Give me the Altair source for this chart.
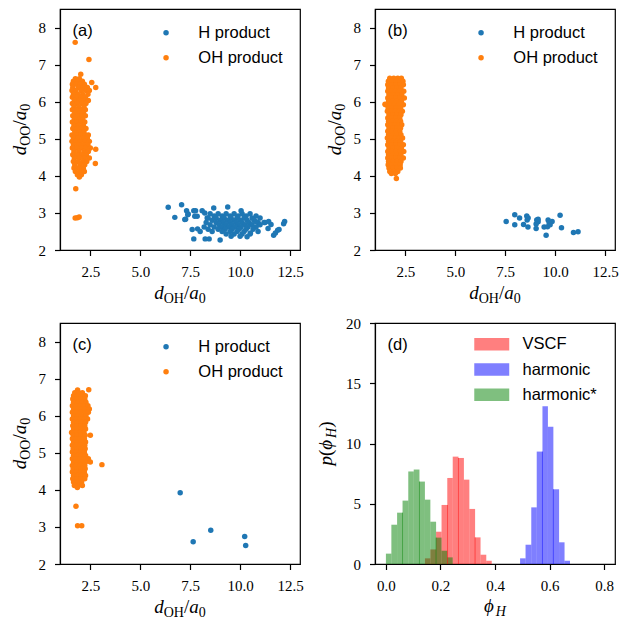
import altair as alt
import pandas as pd

BLUE = "#1f77b4"
ORANGE = "#ff7f0e"
SERIF = "Liberation Serif"
SANS = "Liberation Sans"

# ---------------- data ----------------
# panel (a)
A_OH_ROWS = [
    (6.62, [1.75, 1.95]),
    (6.55, [1.65, 1.85, 2.10]),
    (6.47, [1.60, 1.80, 2.00, 2.20]),
    (6.38, [1.62, 1.90, 2.15, 2.35]),
    (6.30, [1.58, 1.78, 2.05, 2.30, 2.45]),
    (6.20, [1.65, 1.88, 2.12, 2.38]),
    (6.12, [1.60, 1.82, 2.02, 2.25]),
    (6.03, [1.70, 1.95, 2.20, 2.40]),
    (5.95, [1.60, 1.85, 2.10, 2.28]),
    (5.86, [1.68, 1.92, 2.18]),
    (5.78, [1.60, 1.80, 2.05, 2.25]),
    (5.70, [1.72, 1.95, 2.15]),
    (5.62, [1.62, 1.85, 2.08, 2.25]),
    (5.53, [1.70, 1.92, 2.12]),
    (5.45, [1.60, 1.82, 2.02, 2.22]),
    (5.36, [1.68, 1.90, 2.15]),
    (5.28, [1.62, 1.85, 2.05, 2.28]),
    (5.19, [1.72, 1.95, 2.18]),
    (5.10, [1.58, 1.80, 2.02, 2.25, 2.40]),
    (5.02, [1.65, 1.88, 2.12, 2.35]),
    (4.93, [1.58, 1.78, 2.00, 2.22, 2.45]),
    (4.84, [1.65, 1.90, 2.15, 2.38]),
    (4.75, [1.60, 1.82, 2.05, 2.28, 2.50]),
    (4.66, [1.68, 1.92, 2.18, 2.40]),
    (4.57, [1.62, 1.85, 2.08, 2.30]),
    (4.48, [1.70, 1.95, 2.20, 2.45]),
    (4.39, [1.65, 1.88, 2.12, 2.32]),
    (4.30, [1.72, 1.98, 2.22]),
    (4.21, [1.68, 1.90, 2.15]),
    (4.12, [1.75, 2.00, 2.20]),
    (4.03, [1.85, 2.05]),
    (3.97, [1.95]),
]
A_OH_EXTRA = [(1.74, 7.60), (2.43, 7.14), (2.02, 6.74), (2.57, 6.52), (2.77, 6.38),
              (2.77, 4.72), (2.75, 4.33), (1.77, 3.65), (1.74, 2.86), (1.85, 2.87), (1.94, 2.89)]
A_H_ROWS = [
    (2.98, [8.5, 8.9, 9.3, 9.7, 10.1, 10.5]),
    (2.92, [8.7, 9.1, 9.5, 9.9, 10.3, 10.8]),
    (2.86, [8.4, 8.8, 9.2, 9.55, 9.85, 10.2, 10.6, 11.0]),
    (2.80, [8.6, 9.0, 9.35, 9.7, 10.0, 10.35, 10.7]),
    (2.74, [8.3, 8.8, 9.15, 9.5, 9.8, 10.1, 10.45, 10.9, 11.2]),
    (2.68, [8.5, 8.95, 9.3, 9.6, 9.9, 10.25, 10.6, 11.0]),
    (2.62, [8.2, 8.7, 9.1, 9.45, 9.75, 10.05, 10.4, 10.8]),
    (2.56, [8.4, 8.9, 9.25, 9.6, 9.95, 10.3, 10.65]),
    (2.50, [8.0, 8.6, 9.1, 9.5, 9.85, 10.2, 10.9]),
    (2.43, [9.3, 9.7, 10.1, 10.5]),
    (2.37, [9.55, 10.0]),
]
A_H_EXTRA = [(6.40, 3.15), (6.73, 2.88), (7.07, 3.22), (7.27, 2.83), (7.32, 3.06), (7.40, 2.97),
             (7.68, 3.06), (7.77, 3.06), (7.85, 2.91), (7.60, 2.55), (7.87, 2.57), (7.68, 2.30),
             (8.10, 3.06), (8.23, 3.00), (8.35, 2.86), (8.68, 3.13), (8.25, 2.30), (8.45, 2.30),
             (9.00, 2.27), (9.38, 3.16), (10.05, 3.06), (10.35, 2.36), (10.80, 2.76), (11.25, 2.74),
             (11.55, 2.69), (11.68, 2.40), (11.88, 2.53), (12.18, 2.71), (11.95, 2.55), (11.40, 2.58),
             (7.23, 2.82), (7.38, 2.95), (7.73, 2.91), (10.52, 2.46), (11.43, 2.77), (11.77, 2.46),
             (12.23, 2.77)]

# panel (b)
B_OH_ROWS = [
    (6.63, [1.72, 1.92, 2.12, 2.30]),
    (6.55, [1.65, 1.85, 2.05, 2.25, 2.38]),
    (6.46, [1.62, 1.82, 2.02, 2.22, 2.40]),
    (6.37, [1.66, 1.88, 2.08, 2.28]),
    (6.28, [1.62, 1.80, 2.00, 2.20, 2.42]),
    (6.19, [1.68, 1.90, 2.10, 2.32]),
    (6.10, [1.62, 1.82, 2.02, 2.22, 2.45]),
    (6.01, [1.66, 1.86, 2.06, 2.30]),
    (5.92, [1.52, 1.74, 1.96, 2.16, 2.40]),
    (5.83, [1.64, 1.84, 2.04, 2.26]),
    (5.74, [1.60, 1.80, 2.00, 2.20, 2.35]),
    (5.65, [1.68, 1.88, 2.08, 2.28]),
    (5.56, [1.62, 1.82, 2.02, 2.22]),
    (5.47, [1.66, 1.86, 2.06, 2.26]),
    (5.38, [1.62, 1.80, 2.00, 2.20, 2.32]),
    (5.29, [1.68, 1.88, 2.08, 2.26]),
    (5.20, [1.62, 1.82, 2.02, 2.22]),
    (5.11, [1.66, 1.86, 2.06, 2.28]),
    (5.02, [1.60, 1.80, 2.00, 2.20, 2.36]),
    (4.93, [1.66, 1.86, 2.06, 2.26]),
    (4.84, [1.62, 1.82, 2.02, 2.22, 2.40]),
    (4.75, [1.68, 1.88, 2.08, 2.30]),
    (4.66, [1.62, 1.82, 2.02, 2.22, 2.42]),
    (4.57, [1.66, 1.86, 2.06, 2.28]),
    (4.48, [1.62, 1.82, 2.02, 2.22, 2.40]),
    (4.39, [1.66, 1.88, 2.08, 2.28]),
    (4.30, [1.64, 1.84, 2.04, 2.24]),
    (4.21, [1.68, 1.88, 2.08, 2.25]),
    (4.12, [1.72, 1.92, 2.12]),
    (4.06, [1.80, 2.00]),
]
B_OH_EXTRA = [(1.48, 5.93), (2.05, 3.93)]
B_H = [(7.55, 2.77), (7.98, 2.95), (7.98, 2.68), (8.22, 2.86), (8.42, 2.69), (8.58, 2.92),
       (8.60, 2.81), (8.64, 2.62), (9.08, 2.81), (9.05, 2.58), (9.15, 2.76), (9.05, 2.70),
       (9.45, 2.62), (9.55, 2.40), (9.62, 2.63), (9.65, 2.81), (9.75, 2.68), (9.85, 2.77),
       (10.25, 2.94), (10.32, 2.60), (10.92, 2.47), (11.15, 2.49), (8.65, 2.86), (9.15, 2.83),
       (9.70, 2.74)]

# panel (c)
C_OH_ROWS = [
    (6.69, [1.86]),
    (6.62, [1.72, 1.92, 2.10]),
    (6.54, [1.66, 1.86, 2.06, 2.25]),
    (6.45, [1.62, 1.82, 2.02, 2.22]),
    (6.36, [1.66, 1.88, 2.08, 2.28]),
    (6.27, [1.60, 1.80, 2.00, 2.20, 2.38]),
    (6.18, [1.66, 1.86, 2.06, 2.26, 2.45]),
    (6.09, [1.60, 1.80, 2.00, 2.22, 2.40]),
    (6.00, [1.66, 1.86, 2.06, 2.28]),
    (5.91, [1.60, 1.80, 2.00, 2.20, 2.36]),
    (5.82, [1.66, 1.86, 2.06, 2.26]),
    (5.73, [1.62, 1.82, 2.02, 2.22]),
    (5.64, [1.66, 1.86, 2.06, 2.26]),
    (5.55, [1.56, 1.78, 1.98, 2.18]),
    (5.47, [1.64, 1.84, 2.04, 2.24, 2.50]),
    (5.38, [1.60, 1.80, 2.00, 2.20]),
    (5.29, [1.66, 1.86, 2.06, 2.26]),
    (5.20, [1.60, 1.80, 2.00, 2.22]),
    (5.11, [1.64, 1.84, 2.04, 2.24]),
    (5.02, [1.60, 1.80, 2.00, 2.20]),
    (4.93, [1.66, 1.86, 2.06, 2.26]),
    (4.84, [1.60, 1.80, 2.00, 2.20, 2.40]),
    (4.75, [1.66, 1.86, 2.06, 2.26, 2.50]),
    (4.66, [1.60, 1.80, 2.00, 2.22]),
    (4.57, [1.64, 1.84, 2.04, 2.24]),
    (4.48, [1.60, 1.80, 2.00, 2.20]),
    (4.39, [1.66, 1.86, 2.06, 2.26]),
    (4.30, [1.62, 1.82, 2.02, 2.22]),
    (4.21, [1.66, 1.86, 2.06]),
    (4.12, [1.70, 1.90, 2.10]),
    (4.06, [1.85]),
]
C_OH_EXTRA = [(2.42, 6.70), (3.08, 4.68), (1.78, 3.56), (1.86, 3.03), (2.07, 3.03)]
C_H = [(7.00, 3.92), (7.65, 2.60), (8.53, 2.91), (10.23, 2.74), (10.28, 2.50)]

# panel (d) histograms: bin edges and heights
VSCF_EDGES = [0.143, 0.163, 0.184, 0.204, 0.225, 0.245, 0.266, 0.286, 0.306, 0.327, 0.347, 0.368, 0.388]
VSCF_H = [0.47, 1.21, 2.68, 4.90, 7.14, 8.91, 8.80, 7.00, 4.57, 2.21, 0.77, 0.27]
HARM_EDGES = [0.492, 0.512, 0.533, 0.553, 0.574, 0.594, 0.614, 0.635, 0.655, 0.675]
HARM_H = [0.47, 1.60, 4.70, 9.33, 13.10, 11.40, 6.20, 1.80, 0.27]
HSTAR_EDGES = [0.000, 0.020, 0.041, 0.061, 0.082, 0.102, 0.123, 0.143, 0.163, 0.184, 0.204, 0.225, 0.245]
HSTAR_H = [0.86, 3.26, 4.26, 5.26, 7.68, 7.84, 6.84, 5.34, 3.51, 2.19, 1.10, 0.55]
# darker seams visible inside the bars
SEAM_X = [0.226, 0.266, 0.327, 0.574, 0.614, 0.061, 0.123, 0.184]
SEAM_TOP = [4.90, 8.80, 2.21, 9.33, 6.20, 4.26, 6.84, 2.19]
SEAM_SERIES = ["VSCF", "VSCF", "VSCF", "harmonic", "harmonic", "harmonic*", "harmonic*", "harmonic*"]

SERIES_D = ["VSCF", "harmonic", "harmonic*"]
COLORS_D = ["#ff0000", "#0000ff", "#008000"]

W, H = 240, 241
MAIN, SUB = 19, 14
CHAR_W = {"d": 0.5, "a": 0.5, "O": 0.722, "H": 0.722, "/": 0.278, "0": 0.5,
          "p": 0.5, "(": 0.333, ")": 0.333, "ϕ": 0.62}


def piece_layers(pieces, center, base, vertical):
    widths = [sum(CHAR_W.get(c, 0.5) for c in t) * s for t, s, it, sh in pieces]
    total = sum(widths)
    pos = 0.0
    out = []
    for (t, s, it, sh), w in zip(pieces, widths):
        if vertical:
            x, y, ang = base + sh, center + total / 2 - pos, 270
        else:
            x, y, ang = center - total / 2 + pos, base + sh, 0
        out.append(
            alt.Chart(pd.DataFrame({"t": [t]}))
            .mark_text(align="left", baseline="alphabetic", font=SERIF, fontSize=s,
                       fontStyle="italic" if it else "normal", angle=ang, color="black")
            .encode(x=alt.value(x), y=alt.value(y), text="t:N")
        )
        pos += w
    return out


def d_title(sub):
    return [("d", MAIN, True, 0), (sub, SUB, False, 4), ("/", MAIN, False, 0),
            ("a", MAIN, True, 0), ("0", SUB, False, 4)]


def panel_label(txt):
    return (alt.Chart(pd.DataFrame({"t": [txt]}))
            .mark_text(align="left", baseline="middle", font=SANS, fontSize=16.5, color="black")
            .encode(x=alt.value(12.5), y=alt.value(21.5), text="t:N"))


def scatter_panel(h_pts, oh_pts, label):
    rows = [{"x": x, "y": y, "series": "H product"} for x, y in h_pts] + \
           [{"x": x, "y": y, "series": "OH product"} for x, y in oh_pts]
    df = pd.DataFrame(rows)
    pts = alt.Chart(df).mark_circle(size=30, opacity=1).encode(
        x=alt.X("x:Q", scale=alt.Scale(domain=[0.98, 13.0], nice=False, zero=False),
                axis=alt.Axis(values=[2.5, 5.0, 7.5, 10.0, 12.5], format=".1f", title="")),
        y=alt.Y("y:Q", scale=alt.Scale(domain=[2, 8.5], nice=False, zero=False),
                axis=alt.Axis(values=[2, 3, 4, 5, 6, 7, 8], format="d", title="")),
        color=alt.Color("series:N",
                        scale=alt.Scale(domain=["H product", "OH product"], range=[BLUE, ORANGE]),
                        legend=alt.Legend(title="", orient="none", legendX=97.8, legendY=15.5,
                                          symbolType="circle", symbolSize=30, labelFont=SANS,
                                          labelFontSize=16.5, labelOffset=24, rowPadding=8,
                                          padding=0, labelColor="black", labelAlign="left")),
    )
    layers = [pts, panel_label(label)]
    layers += piece_layers(d_title("OH"), W / 2, 289.7, False)
    layers += piece_layers(d_title("OO"), H / 2, -34.3, True)
    return alt.layer(*layers).properties(width=W, height=H)


def pts_from(rows, extra):
    return [(x, y) for y, xs in rows for x in xs] + extra


panel_a = scatter_panel(pts_from(A_H_ROWS, A_H_EXTRA), pts_from(A_OH_ROWS, A_OH_EXTRA), "(a)")
panel_b = scatter_panel(B_H, pts_from(B_OH_ROWS, B_OH_EXTRA), "(b)")
panel_c = scatter_panel(C_H, pts_from(C_OH_ROWS, C_OH_EXTRA), "(c)")

# panel (d)
hist_rows = []
for name, edges, hs in [("VSCF", VSCF_EDGES, VSCF_H), ("harmonic", HARM_EDGES, HARM_H),
                        ("harmonic*", HSTAR_EDGES, HSTAR_H)]:
    for i, h in enumerate(hs):
        hist_rows.append({"left": edges[i], "right": edges[i + 1], "height": h, "series": name})
hist_df = pd.DataFrame(hist_rows)
seam_df = pd.DataFrame({"x": SEAM_X, "top": SEAM_TOP, "series": SEAM_SERIES})

xd = alt.Scale(domain=[-0.04, 0.84], nice=False, zero=False)
yd = alt.Scale(domain=[0, 20], nice=False)
bars = alt.Chart(hist_df).mark_rect(opacity=0.5).encode(
    x=alt.X("left:Q", scale=xd, axis=alt.Axis(values=[0, 0.2, 0.4, 0.6, 0.8], format=".1f", title="")),
    x2="right:Q",
    y=alt.Y("height:Q", scale=yd, axis=alt.Axis(values=[0, 5, 10, 15, 20], format="d", title="")),
    y2=alt.datum(0),
    color=alt.Color("series:N", scale=alt.Scale(domain=SERIES_D, range=COLORS_D),
                    legend=alt.Legend(title="", orient="none", legendX=108.5, legendY=13,
                                      symbolType="M-2.8,-1H2.8V1H-2.8Z", symbolSize=156,
                                      symbolOpacity=0.5, symbolStrokeWidth=0, labelFont=SANS,
                                      labelFontSize=16.5, labelOffset=22.5, rowPadding=8.3,
                                      padding=0, labelColor="black", labelAlign="left")),
)
seams = alt.Chart(seam_df).mark_rule(opacity=0.5, strokeWidth=1).encode(
    x=alt.X("x:Q", scale=xd),
    y=alt.Y("top:Q", scale=yd),
    y2=alt.datum(0),
    stroke=alt.Stroke("series:N", scale=alt.Scale(domain=SERIES_D, range=COLORS_D), legend=None),
)
d_layers = [bars, seams, panel_label("(d)")]
d_layers += piece_layers([("ϕ", MAIN, True, 0), ("H", SUB, True, 4)], W / 2, 289.4, False)
d_layers += piece_layers([("p", MAIN, True, 0), ("(", MAIN, False, 0), ("ϕ", MAIN, True, 0),
                          ("H", SUB, True, 4), (")", MAIN, False, 0)], H / 2, -42.7, True)
panel_d = alt.layer(*d_layers).properties(width=W, height=H)

chart = (
    alt.concat(panel_a, panel_b, panel_c, panel_d, columns=2,
               spacing={"row": 73, "column": 75}, bounds="flush")
    .resolve_scale(color="independent")
    .properties(padding={"left": 10, "top": 8, "right": 0, "bottom": 0}, background="white")
    .configure_view(stroke="black", strokeWidth=1.2)
    .configure_axis(labelFont=SERIF, labelFontSize=15, labelColor="black", tickColor="black",
                    domainColor="black", tickSize=5.5, tickWidth=1.2, domainWidth=1.2,
                    labelPadding=9, grid=False)
)

chart.save("out.html", embed_options={"renderer": "svg", "actions": False})
